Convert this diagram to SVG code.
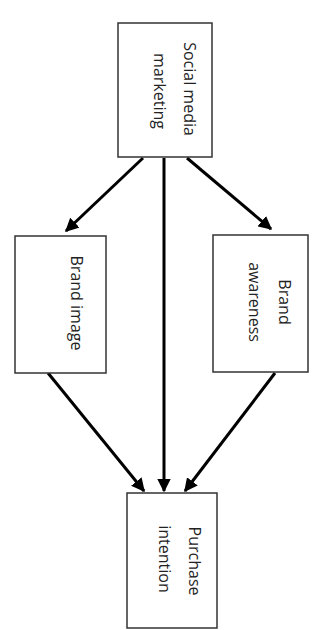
<svg xmlns="http://www.w3.org/2000/svg" width="320" height="630" viewBox="0 0 320 630">
<style>
.box{fill:#fff;stroke:#333;stroke-width:1.5}
.lbl{font-family:"Open Sans","DejaVu Sans",sans-serif;font-size:16px;fill:#222;text-anchor:middle;dominant-baseline:central}
.arr{stroke:#000;stroke-width:3;fill:none}
</style>
<defs>
<marker id="ah" viewBox="0 0 10 10" refX="9" refY="5" markerWidth="4.5" markerHeight="4.5" orient="auto" markerUnits="strokeWidth">
<path d="M0,0 L10,5 L0,10 z" fill="#000"/>
</marker>
</defs>
<rect width="320" height="630" fill="#fff"/>
<g id="connectors">
<line class="arr" x1="143" y1="158" x2="66" y2="231" marker-end="url(#ah)"/>
<line class="arr" x1="187" y1="158" x2="271" y2="229" marker-end="url(#ah)"/>
<line class="arr" x1="164" y1="158" x2="164" y2="491" marker-end="url(#ah)"/>
<line class="arr" x1="48" y1="373" x2="144" y2="491" marker-end="url(#ah)"/>
<line class="arr" x1="275" y1="373" x2="185" y2="491" marker-end="url(#ah)"/>
</g>
<g id="social-media-marketing">
<rect class="box" x="118" y="23" width="94" height="134"/>
<text class="lbl" transform="translate(190,89) rotate(90)">Social media</text>
<text class="lbl" transform="translate(160,91) rotate(90)">marketing</text>
</g>
<g id="brand-image">
<rect class="box" x="15" y="236" width="91" height="137"/>
<text class="lbl" transform="translate(77,303) rotate(90)">Brand image</text>
</g>
<g id="brand-awareness">
<rect class="box" x="213" y="235" width="95" height="137"/>
<text class="lbl" transform="translate(285,302) rotate(90)">Brand</text>
<text class="lbl" transform="translate(255,302) rotate(90)">awareness</text>
</g>
<g id="purchase-intention">
<rect class="box" x="127" y="493" width="90" height="135"/>
<text class="lbl" transform="translate(195,561) rotate(90)">Purchase</text>
<text class="lbl" transform="translate(165,559) rotate(90)">intention</text>
</g>
</svg>
